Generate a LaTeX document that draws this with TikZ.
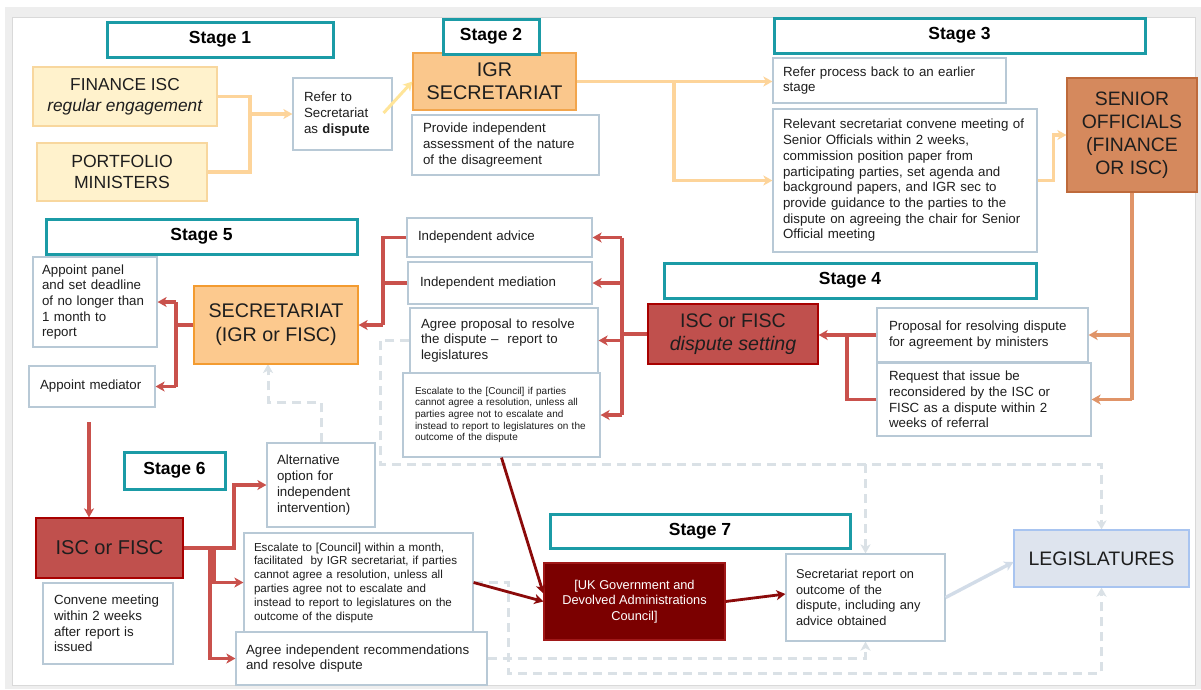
\documentclass[tikz,border=0pt]{standalone}
\usepackage{fontspec}
\setmainfont{Liberation Sans}
\usetikzlibrary{arrows.meta}
\pgfdeclarelayer{bg}
\pgfsetlayers{bg,main}
\definecolor{teal}{HTML}{1B9BA6}
\definecolor{txtc}{HTML}{1E1E1E}
\definecolor{yfill}{HTML}{FFF2CC}
\definecolor{ylinec}{HTML}{F8D79E}
\definecolor{plinec}{HTML}{B8C9D6}
\definecolor{igrfill}{HTML}{FAC78C}
\definecolor{igrline}{HTML}{F2A54C}
\definecolor{secfill}{HTML}{FCC98E}
\definecolor{secline}{HTML}{F39B30}
\definecolor{senfill}{HTML}{D5895D}
\definecolor{senline}{HTML}{BE6A3B}
\definecolor{redfill}{HTML}{C0504D}
\definecolor{redline}{HTML}{A80000}
\definecolor{counfill}{HTML}{7B0000}
\definecolor{counline}{HTML}{A01818}
\definecolor{legfill}{HTML}{DEE4EE}
\definecolor{legline}{HTML}{A8C4F0}
\definecolor{corange}{HTML}{FDD49A}
\definecolor{cyellow}{HTML}{FFE599}
\definecolor{csenior}{HTML}{E09468}
\definecolor{cred}{HTML}{C9514C}
\definecolor{cdark}{HTML}{8B0A0A}
\definecolor{cblue}{HTML}{D2DCE8}
\definecolor{cdash}{HTML}{DAE1E6}
\definecolor{framegray}{HTML}{EEEEEE}
\newcommand\fs[2]{\fontsize{#1}{#2}\selectfont}
\begin{document}
\begin{tikzpicture}[x=1pt,y=-1pt,
  sz/.style 2 args={minimum width=#1pt, minimum height=#2pt},
  box/.style={rectangle, inner sep=0pt, text=txtc, font=\fs{13.3}{15.7}},
  stagebox/.style={box, draw=teal, line width=3pt, fill=white, font=\bfseries\fs{17.5}{20}, text=black},
  pbox/.style={box, draw=plinec, line width=1.2pt, fill=white, align=left},
  ybox/.style={box, draw=ylinec, line width=1.2pt, fill=yfill, align=center, font=\fs{17.3}{21.5}},
  cbox/.style={box, line width=1.2pt, align=center},
  arr/.style={-{Stealth[length=9pt,width=10pt,inset=2.5pt]}},
  oline/.style={draw=corange, line width=3.4pt},
  yline/.style={draw=cyellow, line width=3pt},
  sline/.style={draw=csenior, line width=3.2pt},
  rline/.style={draw=cred, line width=3.2pt},
  dline/.style={draw=cdark, line width=2.8pt},
  bline/.style={draw=cblue, line width=3.4pt},
  dsh/.style={draw=cdash, line width=3pt, dash pattern=on 9pt off 6pt}
]
\useasboundingbox (0,0) rectangle (1201,689);
\begin{pgfonlayer}{bg}
\fill[white] (0,0) rectangle (1201,689);
\fill[framegray] (5,7) rectangle (1201,689);
\filldraw[fill=white, draw=black!15, line width=0.8pt] (12,17) rectangle (1195,685);
\end{pgfonlayer}

% Stage labels
\node[stagebox, sz={226}{35}] (s1) at (220,39.5) {Stage 1};
\node[stagebox, sz={371}{35}] (s3) at (959.5,35.5) {Stage 3};
\node[stagebox, sz={372}{35}] (s4) at (850,280.5) {Stage 4};
\node[stagebox, sz={311}{35}] (s5) at (201.5,236.5) {Stage 5};
\node[stagebox, sz={101}{37}] (s6) at (174.5,470.5) {Stage 6};
\node[stagebox, sz={300}{34}] (s7) at (700,531) {Stage 7};

% Stage 1
\node[ybox, sz={184}{59}] (fin) at (125,96.5) {FINANCE ISC\\\textit{regular engagement}};
\node[ybox, sz={170}{58}, font=\fs{17.6}{20.5}] (port) at (122,172) {PORTFOLIO\\MINISTERS};
\node[pbox, sz={99}{72}, inner xsep=11pt, text width=77pt] (refer) at (342.5,114) {Refer to\\Secretariat\\as \textbf{dispute}};

% Stage 2
\node[cbox, sz={163}{57}, fill=igrfill, draw=igrline, font=\fs{19.8}{23}] (igr) at (494.5,81.5) {IGR\\SECRETARIAT};
\node[stagebox, sz={96}{35}] (s2) at (491,36.5) {Stage 2};
\node[pbox, sz={187}{60}, inner xsep=11pt, text width=165pt] (provide) at (505.5,145) {Provide independent\\assessment of the nature\\of the disagreement};

% Stage 3
\node[pbox, sz={233}{45}, inner xsep=10pt, text width=213pt] (back) at (889.5,80.5) {Refer process back to an earlier\\stage};
\node[pbox, sz={264}{143}, inner xsep=10pt, text width=244pt] (relevant) at (905,180.5) {Relevant secretariat convene meeting of\\Senior Officials within 2 weeks,\\commission position paper from\\participating parties, set agenda and\\background papers, and IGR sec to\\provide guidance to the parties to the\\dispute on agreeing the chair for Senior\\Official meeting};
\node[cbox, sz={130}{114}, fill=senfill, draw=senline, font=\fs{19.4}{23}] (senior) at (1132,135) {SENIOR\\OFFICIALS\\(FINANCE\\OR ISC)};

% Stage 4
\node[pbox, sz={211}{54}, inner xsep=12pt, text width=187pt] (proposal) at (982.5,335) {Proposal for resolving dispute\\for agreement by ministers};
\node[pbox, sz={214}{73}, inner xsep=12pt, text width=190pt] (request) at (984,399.5) {Request that issue be\\reconsidered by the ISC or\\FISC as a dispute within 2\\weeks of referral};
\node[cbox, sz={170}{60}, fill=redfill, draw=redline, font=\fs{19.6}{23}] (iscd) at (733,334) {ISC or FISC\\\textit{dispute setting}};
\node[pbox, sz={185}{39}, inner xsep=11pt, text width=163pt] (advice) at (499.5,237.5) {Independent advice};
\node[pbox, sz={184}{42}, inner xsep=12pt, text width=160pt] (mediation) at (500,283) {Independent mediation};
\node[pbox, sz={188}{65}, inner xsep=11pt, text width=166pt] (agreeprop) at (504,340.5) {Agree proposal to resolve\\the dispute –\ \ report to\\legislatures};
\node[pbox, sz={197}{84}, inner xsep=12pt, text width=173pt, font=\fs{10}{11.6}] (esc5) at (501.5,415) {Escalate to the [Council] if parties\\cannot agree a resolution, unless all\\parties agree not to escalate and\\instead to report to legislatures on the\\outcome of the dispute};

% Stage 5
\node[cbox, sz={164}{78}, fill=secfill, draw=secline, font=\fs{19.7}{24}] (sec) at (276,325) {SECRETARIAT\\(IGR or FISC)};
\node[pbox, sz={124}{90}, inner xsep=9pt, text width=106pt] (panel) at (95,302) {Appoint panel\\and set deadline\\of no longer than\\1 month to\\report};
\node[pbox, sz={126}{41}, inner xsep=11pt, text width=104pt] (mediator) at (92,386.5) {Appoint mediator};

% Stage 6
\node[cbox, sz={147}{60}, fill=redfill, draw=redline, font=\fs{20}{24}] (isc6) at (109.5,548) {ISC or FISC};
\node[pbox, sz={130}{81}, inner xsep=11pt, text width=108pt] (convene) at (108,623.5) {Convene meeting\\within 2 weeks\\after report is\\issued};
\node[pbox, sz={108}{84}, inner xsep=10pt, text width=88pt] (alt) at (321,485) {Alternative\\option for\\independent\\intervention)};
\node[pbox, sz={229}{99}, inner xsep=10pt, text width=209pt, font=\fs{11.6}{13.8}] (esc6) at (358.5,582.5) {Escalate to [Council] within a month,\\facilitated\ \ by IGR secretariat, if parties\\cannot agree a resolution, unless all\\parties agree not to escalate and\\instead to report to legislatures on the\\outcome of the dispute};
\node[pbox, sz={251}{53}, inner xsep=10pt, text width=231pt] (agreeind) at (361.5,658.5) {Agree independent recommendations\\and resolve dispute};

% Stage 7
\node[cbox, sz={181}{77}, fill=counfill, draw=counline, text=white, font=\fs{12.8}{15.5}] (council) at (634.5,601.5) {[UK Government and\\Devolved Administrations\\Council]};
\node[pbox, sz={159}{87}, inner xsep=10pt, text width=139pt, font=\fs{12.8}{15.5}] (secrep) at (865.5,597.5) {Secretariat report on\\outcome of the\\dispute, including any\\advice obtained};
\node[cbox, sz={175}{57}, fill=legfill, draw=legline, font=\fs{19.5}{23}] (leg) at (1101.5,558.5) {LEGISLATURES};

% ---- connectors: stages 1-3
\coordinate (j1) at (250,114);
\draw[oline] (fin.east) -- (250,96.5) -- (250,172) -- (port.east);
\draw[oline,arr] (j1) -- (refer.west);
\draw[yline,arr] ([xshift=-9pt,yshift=1pt]refer.east) -- (igr.west);
\coordinate (j2) at (674,81.5);
\draw[oline,arr] (igr.east) -- (back.west |- igr.east);
\draw[oline,arr] (j2) |- (relevant.west);
\draw[oline,arr] (relevant.east) -- ++(16,0) |- (senior.west);

% ---- senior officials to stage 4
\draw[sline] (senior.south) -- (senior.south |- request.east);
\draw[sline,arr] (senior.south |- proposal.east) -- (proposal.east);
\draw[sline,arr] (senior.south |- request.east) -- (request.east);

% ---- stage 4 red
\coordinate (k4) at (847,335);
\draw[rline,arr] (proposal.west) -- (iscd.east |- proposal.west);
\draw[rline] (request.west) -| (k4);
\coordinate (rb) at (622,334);
\draw[rline] (iscd.west) -- (rb);
\draw[rline] (rb |- advice.east) -- (rb |- esc5.east);
\draw[rline,arr] (rb |- advice.east) -- (advice.east);
\draw[rline,arr] (rb |- mediation.east) -- (mediation.east);
\draw[rline,arr] (rb |- agreeprop.east) -- (agreeprop.east);
\draw[rline,arr] (rb |- esc5.east) -- (esc5.east);

% ---- stage 5 red
\coordinate (lb) at (383,325);
\draw[rline] (advice.west) -| (lb);
\draw[rline] (mediation.west) -- (lb |- mediation.west);
\draw[rline,arr] (lb) -- (sec.east);
\coordinate (sb) at (176,325);
\draw[rline] (sec.west) -- (sb);
\draw[rline] (sb |- panel.east) -- (sb |- mediator.east);
\draw[rline,arr] (sb |- panel.east) -- (panel.east);
\draw[rline,arr] (sb |- mediator.east) -- (mediator.east);

% ---- stage 6 red
\coordinate (d56) at (89,422);
\draw[rline,arr] (d56) -- (d56 |- isc6.north);
\draw[rline,arr] (isc6.east) -- (234,548) |- (alt.west);
\coordinate (b6a) at (210,548);
\coordinate (b6b) at (214,548);
\draw[rline,arr] (b6a) |- (agreeind.west);
\draw[rline,arr] (b6b) |- (esc6.west);

% ---- dark red to council
\draw[dline,arr] (esc6.east) -- (council.west);
\draw[dline,arr] (esc5.south) -- ([yshift=8pt]council.west);
\draw[dline,arr] (council.east) -- ([yshift=3.5pt]secrep.west);
\draw[bline,arr] (secrep.east) -- ([yshift=-3.5pt]leg.west);

% ---- dashed feedback lines
\begin{pgfonlayer}{bg}
\draw[dsh,arr] (alt.north) |- (268,402) -- ++(0,-38);
\draw[dsh,arr] (agreeprop.west) -- (380,340.5) -- (380,464) -- (1101.5,464) -- (leg.north);
\coordinate (dn) at (865.5,464);
\draw[dsh,arr] (dn) -- (secrep.north);
\draw[dsh,arr] (esc6.east) -- (508,582.5) -- (508,673) -- (1101.5,673) -- (leg.south);
\draw[dsh,arr] (agreeind.east) -- (865.5,658.5) -- (secrep.south);
\end{pgfonlayer}
\end{tikzpicture}
\end{document}
